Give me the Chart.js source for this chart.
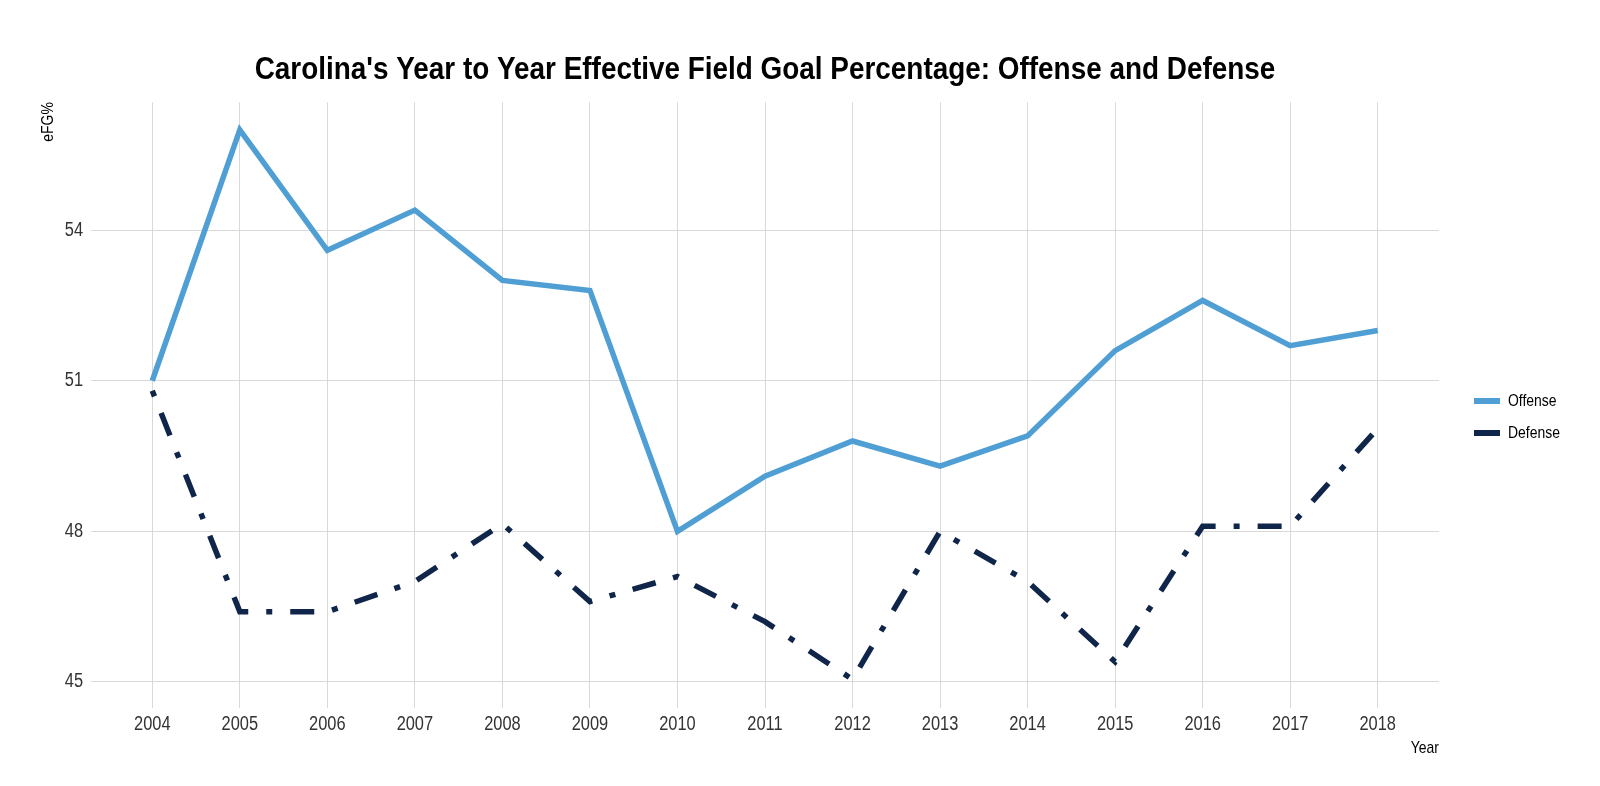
<!DOCTYPE html>
<html>
<head>
<meta charset="utf-8">
<script src="https://cdn.jsdelivr.net/npm/chart.js@4/dist/chart.umd.min.js"></script>
<style>
  body { margin: 0; background: #fff; }
</style>
</head>
<body>
<canvas id="efgChart" width="1600" height="786"></canvas>
<script>
const years = [2004, 2005, 2006, 2007, 2008, 2009, 2010, 2011, 2012, 2013, 2014, 2015, 2016, 2017, 2018]
const offense = [51.0, 56.0, 53.6, 54.4, 53.0, 52.8, 48.0, 49.1, 49.8, 49.3, 49.9, 51.6, 52.6, 51.7, 52.0]
const defense = [50.8, 46.4, 46.4, 47.0, 48.15, 46.6, 47.1, 46.2, 45.05, 48.0, 47.0, 45.4, 48.1, 48.1, 50.05]
const yTicks = [45, 48, 51, 54]

const fam = '"Liberation Sans", Arial, sans-serif'

const ctx = document.getElementById('efgChart').getContext('2d')

// no narrow font installed: squeeze every text draw sideways to fake Arial Narrow
const origFill = ctx.fillText
ctx.fillText = function (text, x, y, maxW) {
    const sx = this.font.indexOf('bold') >= 0 ? 0.9 : 0.82
    this.save()
    this.translate(x, y)
    this.scale(sx, 1)
    if (maxW === undefined) origFill.call(this, text, 0, 0)
    else origFill.call(this, text, 0, 0, maxW / sx)
    this.restore()
}

// legend drawn by hand so it sits where the original one is
const sideLegend = {
    id: 'sideLegend',
    afterDraw(chart) {
        const c = chart.ctx
        c.save()
        chart.data.datasets.forEach((ds, i) => {
            const y = 401 + i * 32
            c.strokeStyle = ds.borderColor
            c.lineWidth = 6
            c.setLineDash([])
            c.beginPath()
            c.moveTo(1474, y)
            c.lineTo(1500, y)
            c.stroke()
            c.fillStyle = '#000'
            c.font = '17px ' + fam
            c.textAlign = 'left'
            c.textBaseline = 'middle'
            c.fillText(ds.label, 1508, y)
        })
        c.restore()
    }
}

const chart = new Chart(ctx, {
    type: 'line',
    data: {
        labels: years,
        datasets: [
            { label: 'Offense', data: years.map((y, i) => ({ x: y, y: offense[i] })),
              borderColor: '#4f9fd5', borderWidth: 5.5, pointRadius: 0, tension: 0 },
            { label: 'Defense', data: years.map((y, i) => ({ x: y, y: defense[i] })),
              borderColor: '#10254a', borderWidth: 5.5, pointRadius: 0, tension: 0,
              borderDash: [6, 18, 24, 18] }
        ]
    },
    options: {
        responsive: false,
        animation: false,
        devicePixelRatio: 1,
        layout: { padding: { left: 0, right: 161, top: 0, bottom: 27 } },
        plugins: {
            legend: { display: false },
            tooltip: { enabled: false },
            title: {
                display: true,
                fullSize: false,
                text: "Carolina's Year to Year Effective Field Goal Percentage: Offense and Defense",
                color: '#000',
                font: { family: fam, size: 31, weight: 'bold' },
                padding: { top: 52, bottom: 13 }
            }
        },
        scales: {
            x: {
                type: 'linear',
                min: 2003.3, max: 2018.7,
                afterBuildTicks: s => { s.ticks = years.map(v => ({ value: v })) },
                afterFit: s => { s.height = 51 },
                grid: { color: '#d9d9d9', lineWidth: 1, drawTicks: false },
                border: { display: false },
                ticks: { color: '#333', font: { family: fam, size: 20 }, padding: 4,
                         callback: v => String(v), maxRotation: 0, autoSkip: false },
                title: { display: true, text: 'Year', align: 'end', color: '#000',
                         font: { family: fam, size: 17 }, padding: { top: 2, bottom: 0 } }
            },
            y: {
                min: 44.48, max: 56.55,
                afterBuildTicks: s => { s.ticks = yTicks.map(v => ({ value: v })) },
                afterFit: s => { s.width = 91 },
                grid: { color: '#d9d9d9', lineWidth: 1, drawTicks: false },
                border: { display: false },
                ticks: { color: '#333', font: { family: fam, size: 20 }, padding: 8 },
                title: { display: true, text: 'eFG%', align: 'end', color: '#000',
                         font: { family: fam, size: 17 }, padding: { top: 38, bottom: 0 } }
            }
        }
    },
    plugins: [sideLegend]
})
</script>
</body>
</html>
